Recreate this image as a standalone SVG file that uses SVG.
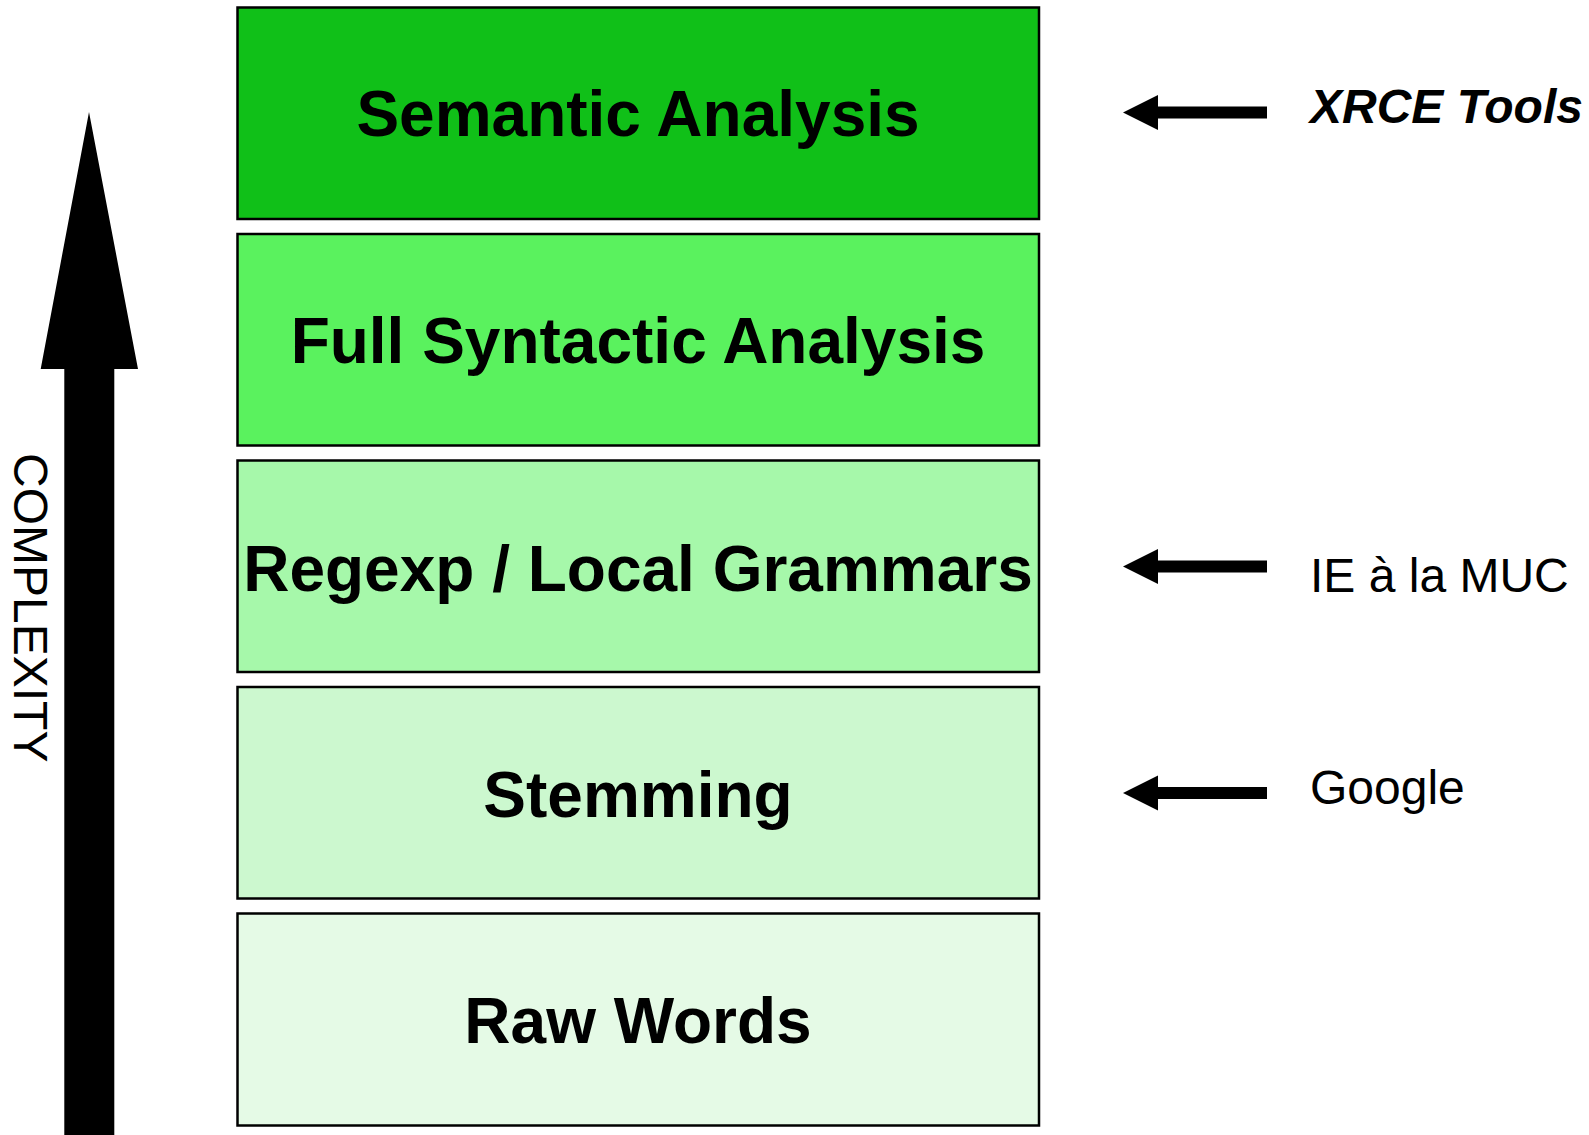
<svg xmlns="http://www.w3.org/2000/svg" width="1589" height="1135" viewBox="0 0 1589 1135">
  <style>
    .box { stroke: #000; stroke-width: 2.5; }
    .lbl { font-family: "Liberation Sans", Arial, sans-serif; font-weight: bold; font-size: 64px; text-anchor: middle; fill: #000; }
    .side { font-family: "Liberation Sans", Arial, sans-serif; font-size: 48px; fill: #000; }
    .arrow { fill: #000; }
  </style>
  <defs>
    <!-- left-pointing arrow, tip at origin -->
    <polygon id="leftArrow" points="0,0 35,-17.5 35,-6 144,-6 144,6 35,6 35,17.5"/>
  </defs>
  <rect width="1589" height="1135" fill="#fff"/>

  <!-- complexity axis -->
  <g id="complexity-axis">
    <polygon class="arrow" points="89,112 138,369 114.3,369 114.3,1135 64.3,1135 64.3,369 40.7,369"/>
    <text class="side" transform="translate(14,453) rotate(90)">COMPLEXITY</text>
  </g>

  <!-- processing layers -->
  <g id="semantic-analysis">
    <rect class="box" x="237.5" y="7.5" width="801.5" height="211.5" fill="#10c018"/>
    <text class="lbl" x="638" y="136">Semantic Analysis</text>
  </g>
  <g id="full-syntactic-analysis">
    <rect class="box" x="237.5" y="234" width="801.5" height="211.5" fill="#5af25e"/>
    <text class="lbl" x="638" y="363">Full Syntactic Analysis</text>
  </g>
  <g id="regexp-local-grammars">
    <rect class="box" x="237.5" y="460.5" width="801.5" height="211.5" fill="#a6f8aa"/>
    <text class="lbl" x="638" y="591">Regexp / Local Grammars</text>
  </g>
  <g id="stemming">
    <rect class="box" x="237.5" y="687" width="801.5" height="211.5" fill="#ccf8cf"/>
    <text class="lbl" x="638" y="817">Stemming</text>
  </g>
  <g id="raw-words">
    <rect class="box" x="237.5" y="913.5" width="801.5" height="212" fill="#e5fae6"/>
    <text class="lbl" x="638" y="1043">Raw Words</text>
  </g>

  <!-- side labels -->
  <g id="xrce-tools">
    <text class="side" x="1310" y="123" font-weight="bold" font-style="italic">XRCE Tools</text>
  </g>
  <g id="ie-muc">
    <text class="side" x="1310" y="592">IE à la MUC</text>
  </g>
  <g id="google">
    <text class="side" x="1310" y="804">Google</text>
  </g>

  <!-- connectors -->
  <g id="connectors" class="arrow">
    <use href="#leftArrow" x="1123" y="112.5"/>
    <use href="#leftArrow" x="1123" y="566.5"/>
    <use href="#leftArrow" x="1123" y="793"/>
  </g>
</svg>
